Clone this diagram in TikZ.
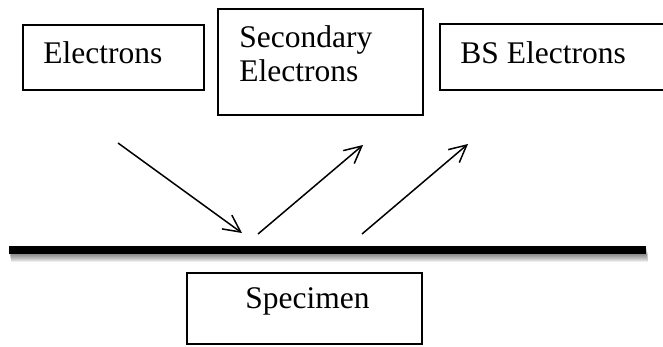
\documentclass[tikz,border=0pt]{standalone}
\usepackage{fontspec}
\setmainfont{Liberation Serif}
\usetikzlibrary{arrows.meta}

\begin{document}
\begin{tikzpicture}[
  x=0.5pt, y=-0.5pt,
  box/.style = {draw, line width=0.9pt, rectangle, inner sep=0pt, anchor=north west},
  lbl/.style = {inner sep=0pt, anchor=base west, align=left,
    font=\fontsize{15.75}{17}\selectfont},
  ray/.style = {line width=0.75pt, -{Straight Barb[length=8.5pt,width=8.5pt]}}
  ]
  \useasboundingbox (0,0) rectangle (663,347);
  % boxes
  \node[box, minimum width=90.5pt, minimum height=32.5pt]  (elec)   at (22,24)  {};
  \node[box, minimum width=102.5pt, minimum height=53pt]   (second) at (217,8)  {};
  \node[box, minimum width=114.5pt, minimum height=33pt]   (bse)    at (439,23) {};
  \node[box, minimum width=117.5pt, minimum height=35.5pt] (spec)   at (186,272) {};
  % their texts (base of a two-line text is its last line)
  \node[lbl] (elecT)   at (43,64)   {Electrons};
  \node[lbl] (secondT) at (239,82)  {Secondary\\Electrons};
  \node[lbl] (bseT)    at (460,64)  {BS Electrons};
  \node[lbl] (specT)   at (245,308) {Specimen};
  %
  % surface, with a soft shadow under it
  \foreach \d in {1,...,8}
    \fill[black, opacity=0.07] (9+\d/4,246+\d) rectangle (646+\d/4,254+\d);
  \fill (9,246) rectangle (646,254);
  %
  % incoming and outgoing rays
  \coordinate (in0)  at (118,143);
  \coordinate (in1)  at (242,233);
  \coordinate (se0)  at (258,234);
  \coordinate (se1)  at (363,145);
  \coordinate (bs0)  at (362,234);
  \coordinate (bs1)  at (468,144);
  \draw[ray] (in0) -- (in1);
  \draw[ray] (se0) -- (se1);
  \draw[ray] (bs0) -- (bs1);
\end{tikzpicture}
\end{document}
